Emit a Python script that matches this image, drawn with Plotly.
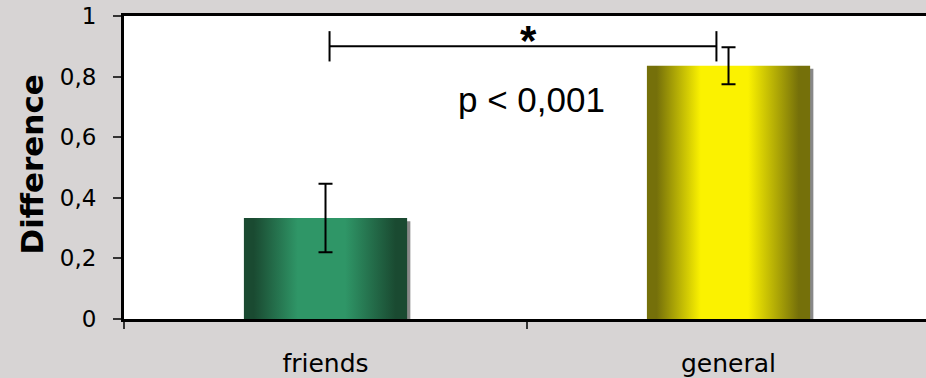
import plotly.graph_objects as go

# data
categories = ["friends", "general"]
values = [0.333, 0.836]
errors = [0.113, 0.061]
bar_light = ["#2f9667", "#fbf200"]
bar_dark = ["#1a4a31", "#75700a"]

bracket_from = 0.01
bracket_to = 0.97
bracket_y = 0.90
bracket_cap = 0.05
p_label = "p < 0,001"
star_label = "*"

bar_width = 0.405
fig = go.Figure()

# gray drop shadow behind each bar
fig.add_trace(go.Bar(x=[i + 0.008 for i in range(len(values))],
                     y=[v - 0.01 for v in values],
                     width=bar_width,
                     marker=dict(color="#888888", line_width=0),
                     hoverinfo="skip"))

# bars with horizontal shading
for i, v in enumerate(values):
    left = i - bar_width / 2
    right = i + bar_width / 2
    fig.add_trace(go.Scatter(
        x=[left, right, right, left, left],
        y=[0, 0, v, v, 0],
        mode="lines", line_width=0,
        fill="toself",
        fillgradient=dict(type="horizontal", start=left, stop=right,
                          colorscale=[[0, bar_dark[i]], [0.06, bar_dark[i]],
                                      [0.33, bar_light[i]], [0.62, bar_light[i]],
                                      [0.93, bar_dark[i]], [1, bar_dark[i]]]),
        name=categories[i]))

# error bars
fig.add_trace(go.Scatter(x=list(range(len(values))), y=values, mode="markers",
                         marker=dict(size=1, color="rgba(0,0,0,0)"),
                         error_y=dict(type="data", array=errors, visible=True,
                                      color="black", thickness=2, width=7)))

# significance bracket
fig.add_trace(go.Scatter(
    x=[bracket_from, bracket_from, None, bracket_from, bracket_to, None, bracket_to, bracket_to],
    y=[bracket_y - bracket_cap, bracket_y + bracket_cap, None, bracket_y, bracket_y, None,
       bracket_y - bracket_cap, bracket_y + bracket_cap],
    mode="lines", line=dict(color="black", width=2), hoverinfo="skip"))

fig.add_annotation(x=(bracket_from + bracket_to) / 2, y=bracket_y, text="<b>" + star_label + "</b>",
                   showarrow=False, yanchor="bottom", yshift=-20, xshift=6,
                   font=dict(family="Liberation Sans", size=42, color="black"))
fig.add_annotation(x=0.51, y=0.725, text=p_label, showarrow=False,
                   font=dict(family="Liberation Sans", size=35, color="black"))
fig.add_annotation(x=0, y=0.5, xref="paper", yref="paper", xshift=-93, xanchor="center",
                   yshift=3, text="<b>Difference</b>", textangle=-90, showarrow=False,
                   font=dict(family="DejaVu Sans", size=31, color="black"))

fig.update_layout(
    width=926, height=378,
    margin=dict(l=124, r=0, t=16, b=57),
    paper_bgcolor="#d7d4d4", plot_bgcolor="white",
    showlegend=False, separators=",.",
    font=dict(family="DejaVu Sans", color="black"),
    xaxis=dict(range=[-0.5, 1.49], tickvals=[0, 1], ticktext=categories,
               ticks="", showgrid=False, zeroline=False,
               showline=True, linewidth=3, linecolor="black", mirror=True,
               tickfont=dict(size=25), ticklabelstandoff=20,
               minor=dict(tick0=-0.5, dtick=1, ticks="outside", ticklen=7,
                          tickwidth=1.5, tickcolor="#333333", showgrid=False)),
    yaxis=dict(range=[0, 1], dtick=0.2, ticks="outside", ticklen=8, tickwidth=1.5,
               tickcolor="#333333", showgrid=False, zeroline=False,
               showline=True, linewidth=3, linecolor="black",
               tickfont=dict(size=23), ticklabelstandoff=12),
)

# drop the page margin so the figure fills the window
fig.write_html("out.html", config={"displayModeBar": False},
               post_script="document.body.style.margin='0';")
